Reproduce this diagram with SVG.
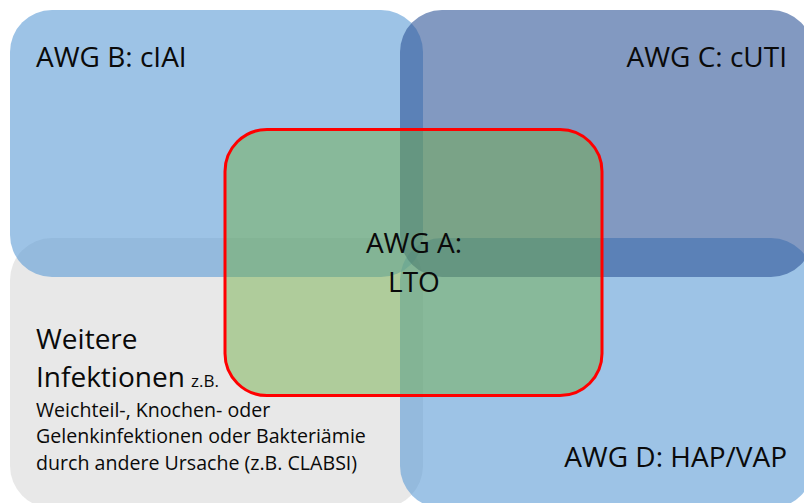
<svg xmlns="http://www.w3.org/2000/svg" width="804" height="503" viewBox="0 0 804 503">
  <style>
    .box { fill-opacity: 0.6; stroke: none; }
    .t { font-family: "Open Sans", "DejaVu Sans", sans-serif; fill: #0a0a0a; }
    .title { font-size: 28px; }
    .sm { font-size: 19.6px; }
  </style>
  <rect x="0" y="0" width="804" height="503" fill="#ffffff"/>
  <g id="node-weitere">
    <rect class="box" x="10" y="238" width="413" height="270" rx="42" fill="#D9D9D9"/>
    <text class="t title" x="36" y="349">Weitere</text>
    <text class="t title" x="36" y="387">Infektionen</text>
    <text class="t" x="191" y="387" font-size="17px">z.B.</text>
    <text class="t sm" x="36" y="417">Weichteil-, Knochen- oder</text>
    <text class="t sm" x="36" y="443">Gelenkinfektionen oder Bakteriämie</text>
    <text class="t sm" x="36" y="470">durch andere Ursache (z.B. CLABSI)</text>
  </g>
  <g id="node-b">
    <rect class="box" x="10" y="10" width="413" height="267" rx="42" fill="#5B9BD5"/>
    <text class="t title" x="36" y="67">AWG B: cIAI</text>
  </g>
  <g id="node-d">
    <rect class="box" x="400" y="238" width="413" height="270" rx="42" fill="#5B9BD5"/>
    <text class="t title" x="787" y="467" text-anchor="end">AWG D: HAP/VAP</text>
  </g>
  <g id="node-c">
    <rect class="box" x="400" y="10" width="413" height="267" rx="42" fill="#2F5597"/>
    <text class="t title" x="787" y="67" text-anchor="end">AWG C: cUTI</text>
  </g>
  <g id="node-a">
    <rect x="225" y="129.5" width="377" height="266" rx="42" fill="#70AD47" fill-opacity="0.48" stroke="#FF0000" stroke-width="3"/>
    <text class="t title" x="414" y="253" text-anchor="middle">AWG A:</text>
    <text class="t title" x="414" y="292" text-anchor="middle">LTO</text>
  </g>
</svg>
